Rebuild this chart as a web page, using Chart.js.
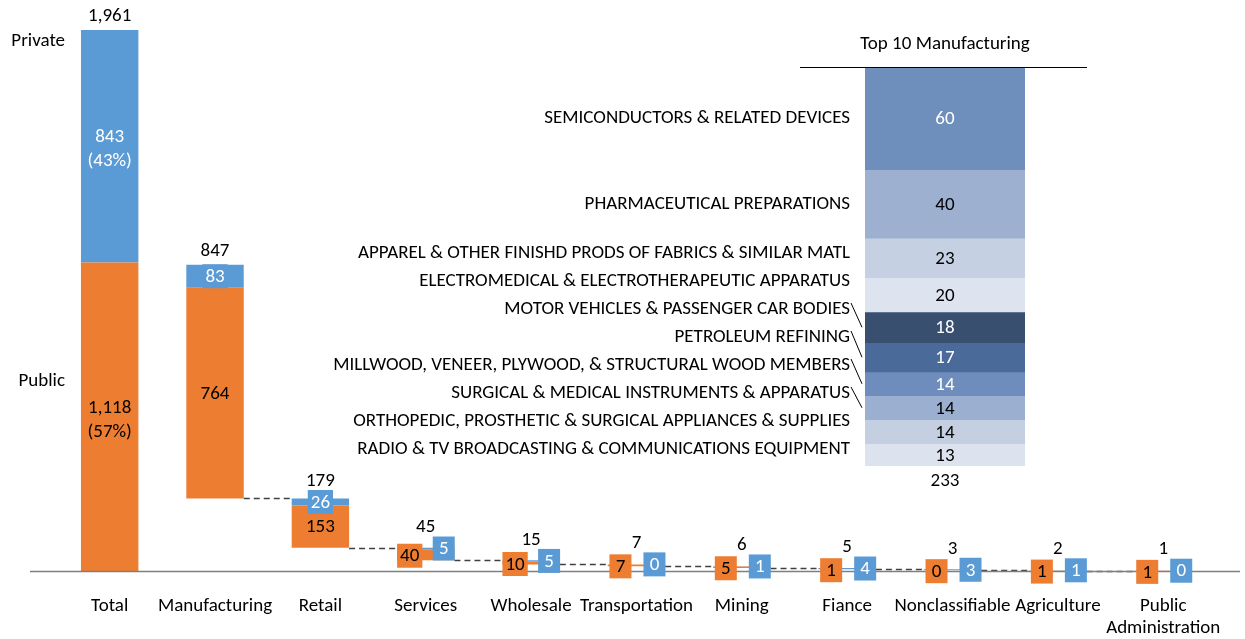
<!DOCTYPE html>
<html>
<head>
<meta charset="utf-8">
<script src="https://cdn.jsdelivr.net/npm/chart.js@4.4.0/dist/chart.umd.min.js"></script>
<style>
  html, body { margin: 0; padding: 0; background: #fff; }
  #wrap { position: relative; width: 1245px; height: 639px; }
  #mainChart { position: absolute; left: 0; top: 0; }
  #insetChart { position: absolute; left: 320px; top: 0; }
</style>
</head>
<body>
<div id="wrap">
  <canvas id="mainChart" width="1245" height="639"></canvas>
  <canvas id="insetChart" width="780" height="500"></canvas>
</div>
<script>
// waterfall data
var categories = ['Total', 'Manufacturing', 'Retail', 'Services', 'Wholesale', 'Transportation',
  'Mining', 'Fiance', 'Nonclassifiable', 'Agriculture', ['Public', 'Administration']];
var publicValues = [1118, 764, 153, 40, 10, 7, 5, 1, 0, 1, 1];
var privateValues = [843, 83, 26, 5, 5, 0, 1, 4, 3, 1, 0];

// top 10 manufacturing
var mfgLabels = ['SEMICONDUCTORS & RELATED DEVICES', 'PHARMACEUTICAL PREPARATIONS',
  'APPAREL & OTHER FINISHD PRODS OF FABRICS & SIMILAR MATL', 'ELECTROMEDICAL & ELECTROTHERAPEUTIC APPARATUS',
  'MOTOR VEHICLES & PASSENGER CAR BODIES', 'PETROLEUM REFINING',
  'MILLWOOD, VENEER, PLYWOOD, & STRUCTURAL WOOD MEMBERS', 'SURGICAL & MEDICAL INSTRUMENTS & APPARATUS',
  'ORTHOPEDIC, PROSTHETIC & SURGICAL APPLIANCES & SUPPLIES', 'RADIO & TV BROADCASTING & COMMUNICATIONS EQUIPMENT'];
var mfgValues = [60, 40, 23, 20, 18, 17, 14, 14, 14, 13];

var FONT = 'Carlito, Calibri, Lato, sans-serif';
var FS = 19;
var ORANGE = '#ED7D31';
var BLUE = '#5B9BD5';
var mfgColors = ['#6E8EBB', '#9DB0D0', '#C5D0E3', '#DEE4EF', '#384F70',
  '#4A6A9A', '#6E8DBC', '#9BAFD1', '#C4CFE2', '#DDE3EE'];

// build floating ranges: Total from 0, the rest step down to 0
var totals = [];
for (var i = 0; i < categories.length; i++) totals.push(publicValues[i] + privateValues[i]);
var bases = [];
var run = 0;
for (var i = categories.length - 1; i >= 1; i--) {
  bases[i] = run;
  run += totals[i];
}
bases[0] = 0;
var publicData = [], privateData = [];
for (var i = 0; i < categories.length; i++) {
  publicData.push([bases[i], bases[i] + publicValues[i]]);
  privateData.push([bases[i] + publicValues[i], totals[i] + bases[i]]);
}

function fmt(n) { return n.toLocaleString('en-US'); }

function labelBox(ctx, text, cx, cy, fill, color) {
  var w = Math.max(ctx.measureText(text).width + 6, 22);
  var h = 24;
  ctx.fillStyle = fill;
  ctx.fillRect(cx - w / 2, cy - h / 2, w, h);
  ctx.fillStyle = color;
  ctx.fillText(text, cx, cy + 1);
  return cy - h / 2;
}

var waterfallPlugin = {
  id: 'waterfall',
  beforeDatasetsDraw: function (chart) {
    var ctx = chart.ctx;
    var y = chart.scales.y;
    var meta = chart.getDatasetMeta(0);
    ctx.save();
    // connectors
    ctx.strokeStyle = '#404040';
    ctx.lineWidth = 1.3;
    ctx.setLineDash([6, 4]);
    for (var i = 1; i < categories.length - 1; i++) {
      var b = meta.data[i], n = meta.data[i + 1];
      var py = Math.round(y.getPixelForValue(bases[i])) + 0.5;
      ctx.beginPath();
      ctx.moveTo(b.x + b.width / 2, py);
      ctx.lineTo(n.x - n.width / 2, py);
      ctx.stroke();
    }
    ctx.restore();
  },
  afterDatasetsDraw: function (chart) {
    var ctx = chart.ctx;
    var y = chart.scales.y;
    var meta = chart.getDatasetMeta(0);
    ctx.save();
    // axis line
    var ay = Math.round(y.getPixelForValue(0)) + 0.5;
    ctx.strokeStyle = '#7F7F7F';
    ctx.lineWidth = 1.5;
    ctx.beginPath();
    ctx.moveTo(30, ay);
    ctx.lineTo(1240, ay);
    ctx.stroke();

    ctx.font = FS + 'px ' + FONT;
    ctx.textAlign = 'center';
    ctx.textBaseline = 'middle';
    for (var i = 0; i < categories.length; i++) {
      var bar = meta.data[i];
      var cx = bar.x;
      var yBase = y.getPixelForValue(bases[i]);
      var yMid = y.getPixelForValue(bases[i] + publicValues[i]);
      var yTop = y.getPixelForValue(bases[i] + totals[i]);
      var pubMid = (yBase + yMid) / 2, privMid = (yMid + yTop) / 2;
      var boxTop;
      if (yBase - yTop > 40) {
        if (i == 0) {
          var pct1 = Math.round(privateValues[i] / totals[i] * 100);
          var pct2 = Math.round(publicValues[i] / totals[i] * 100);
          ctx.fillStyle = '#fff';
          ctx.fillText(fmt(privateValues[i]), cx, privMid - 9);
          ctx.fillText('(' + pct1 + '%)', cx, privMid + 15);
          ctx.fillStyle = '#000';
          ctx.fillText(fmt(publicValues[i]), cx, pubMid - 9);
          ctx.fillText('(' + pct2 + '%)', cx, pubMid + 15);
          boxTop = yTop;
        } else {
          labelBox(ctx, fmt(publicValues[i]), cx, pubMid, ORANGE, '#000');
          boxTop = labelBox(ctx, fmt(privateValues[i]), cx, privMid, BLUE, '#fff');
        }
      } else {
        labelBox(ctx, fmt(publicValues[i]), cx - 16, pubMid + 1, ORANGE, '#000');
        boxTop = labelBox(ctx, fmt(privateValues[i]), cx + 18, privMid, BLUE, '#fff');
      }
      ctx.fillStyle = '#000';
      ctx.fillText(fmt(totals[i]), cx, Math.min(yTop - 14, boxTop - 9));
    }
    // side labels
    ctx.textAlign = 'right';
    ctx.fillText('Private', 65, 41);
    ctx.fillText('Public', 65, 381);
    ctx.restore();
  }
};

new Chart(document.getElementById('mainChart'), {
  type: 'bar',
  data: {
    labels: categories,
    datasets: [
      { label: 'Public', data: publicData, backgroundColor: ORANGE, grouped: false,
        categoryPercentage: 1, barPercentage: 0.545 },
      { label: 'Private', data: privateData, backgroundColor: BLUE, grouped: false,
        categoryPercentage: 1, barPercentage: 0.545 }
    ]
  },
  options: {
    responsive: false,
    animation: false,
    layout: { padding: { top: 30, left: 57, right: 15, bottom: 6 } },
    plugins: { legend: { display: false }, tooltip: { enabled: false } },
    scales: {
      x: {
        grid: { display: false, drawTicks: false },
        border: { display: false },
        ticks: { color: '#000', font: { family: FONT, size: FS, lineHeight: 1.18 }, padding: 24,
          maxRotation: 0, autoSkip: false },
        afterFit: function (scale) { scale.height = 62; }
      },
      y: { display: false, min: 0, max: totals[0] }
    }
  },
  plugins: [waterfallPlugin]
});

// inset: top 10 manufacturing
function isDark(hex) {
  var r = parseInt(hex.substr(1, 2), 16), g = parseInt(hex.substr(3, 2), 16), b = parseInt(hex.substr(5, 2), 16);
  return (0.299 * r + 0.587 * g + 0.114 * b) / 255 < 0.6;
}

var mfgTotal = 0;
for (var i = 0; i < mfgValues.length; i++) mfgTotal += mfgValues[i];

var mfgDatasets = [];
for (var i = 0; i < mfgValues.length; i++) {
  mfgDatasets.push({ label: mfgLabels[i], data: [mfgValues[i]], backgroundColor: mfgColors[i],
    categoryPercentage: 1, barPercentage: 1 });
}

var insetPlugin = {
  id: 'insetLabels',
  afterDatasetsDraw: function (chart) {
    var ctx = chart.ctx;
    var area = chart.chartArea;
    var y = chart.scales.y;
    var cx = (area.left + area.right) / 2;
    ctx.save();
    ctx.font = FS + 'px ' + FONT;
    ctx.textAlign = 'center';
    ctx.textBaseline = 'middle';
    ctx.fillStyle = '#000';
    ctx.fillText('Top 10 Manufacturing', cx, 44);
    ctx.strokeStyle = '#000';
    ctx.lineWidth = 1;
    ctx.beginPath();
    ctx.moveTo(480, area.top + 0.5);
    ctx.lineTo(767, area.top + 0.5);
    ctx.stroke();

    var mids = [], run = 0;
    for (var i = 0; i < mfgValues.length; i++) {
      var a = y.getPixelForValue(run);
      run += mfgValues[i];
      var b = y.getPixelForValue(run);
      mids.push((a + b) / 2);
      ctx.fillStyle = isDark(mfgColors[i]) ? '#fff' : '#000';
      ctx.fillText(fmt(mfgValues[i]), cx, (a + b) / 2 + 1);
    }
    ctx.fillStyle = '#000';
    ctx.fillText(fmt(mfgTotal), cx, area.bottom + 15);

    // category labels pushed apart from the bottom up
    var ys = [];
    for (var i = mfgValues.length - 1; i >= 0; i--) {
      var limit = (i == mfgValues.length - 1) ? area.bottom - 17 : ys[i + 1] - 28;
      ys[i] = Math.min(mids[i], limit);
    }
    ctx.textAlign = 'right';
    var lx = area.left - 15;
    for (var i = 0; i < mfgValues.length; i++) {
      ctx.fillText(mfgLabels[i], lx, ys[i]);
      if (mids[i] - ys[i] > 14) {
        ctx.beginPath();
        ctx.moveTo(lx + 1, ys[i] - 6);
        ctx.lineTo(area.left - 3, mids[i]);
        ctx.stroke();
      }
    }
    ctx.restore();
  }
};

new Chart(document.getElementById('insetChart'), {
  type: 'bar',
  data: { labels: ['Top 10 Manufacturing'], datasets: mfgDatasets },
  options: {
    responsive: false,
    animation: false,
    layout: { padding: { top: 67, bottom: 34, left: 545, right: 75 } },
    plugins: { legend: { display: false }, tooltip: { enabled: false } },
    scales: {
      x: { display: false, stacked: true },
      y: { display: false, stacked: true, reverse: true, min: 0, max: mfgTotal }
    }
  },
  plugins: [insetPlugin]
});
</script>
</body>
</html>
